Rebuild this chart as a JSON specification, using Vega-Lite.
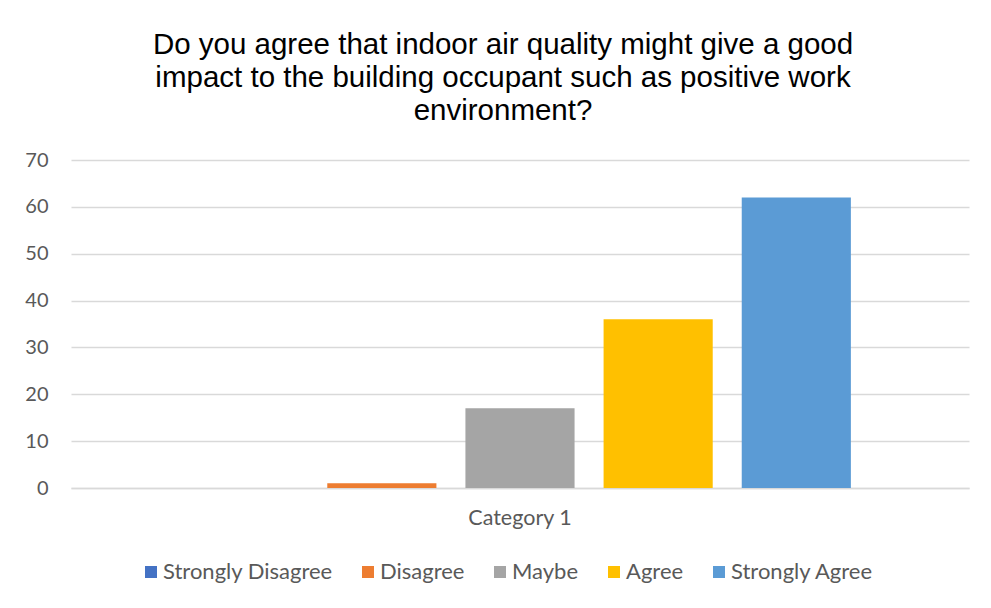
{
  "$schema": "https://vega.github.io/schema/vega-lite/v6.json",
  "autosize": {"type": "none"},
  "width": 898,
  "height": 328,
  "padding": {"left": 71, "top": 160, "right": 22, "bottom": 120},
  "background": "white",
  "title": {
    "text": ["Do you agree that indoor air quality might give a good", "impact to the building occupant such as positive work", "environment?"],
    "font": "Liberation Sans",
    "fontSize": 29.5,
    "fontWeight": "normal",
    "color": "#000000",
    "lineHeight": 33,
    "anchor": "middle",
    "dx": -17,
    "offset": 24
  },
  "data": {
    "values": [
      {"category": "Category 1", "answer": "Strongly Disagree", "count": 0},
      {"category": "Category 1", "answer": "Disagree", "count": 1},
      {"category": "Category 1", "answer": "Maybe", "count": 17},
      {"category": "Category 1", "answer": "Agree", "count": 36},
      {"category": "Category 1", "answer": "Strongly Agree", "count": 62}
    ]
  },
  "mark": {"type": "bar"},
  "encoding": {
    "x": {
      "field": "category",
      "type": "nominal",
      "scale": {"paddingInner": 0, "paddingOuter": 0.15},
      "axis": {
        "title": null,
        "labelAngle": 0,
        "ticks": false,
        "domain": true,
        "domainColor": "#D9D9D9",
        "domainWidth": 1.3,
        "labelFont": "Lato",
        "labelFontSize": 21.5,
        "labelColor": "#595959",
        "labelPadding": 19
      }
    },
    "xOffset": {
      "field": "answer",
      "type": "nominal",
      "sort": ["Strongly Disagree", "Disagree", "Maybe", "Agree", "Strongly Agree"],
      "scale": {"paddingInner": 0.21, "paddingOuter": 0.105}
    },
    "y": {
      "field": "count",
      "type": "quantitative",
      "scale": {"domain": [0, 70], "nice": false},
      "axis": {
        "title": null,
        "values": [0, 10, 20, 30, 40, 50, 60, 70],
        "ticks": false,
        "domain": false,
        "gridColor": "#D9D9D9",
        "gridWidth": 1.3,
        "labelFont": "Lato",
        "labelFontSize": 20,
        "labelColor": "#595959",
        "labelPadding": 23
      }
    },
    "color": {
      "field": "answer",
      "type": "nominal",
      "sort": ["Strongly Disagree", "Disagree", "Maybe", "Agree", "Strongly Agree"],
      "scale": {
        "domain": ["Strongly Disagree", "Disagree", "Maybe", "Agree", "Strongly Agree"],
        "range": ["#4472C4", "#ED7D31", "#A5A5A5", "#FFC000", "#5B9BD5"]
      },
      "legend": {
        "title": null,
        "orient": "none",
        "direction": "horizontal",
        "legendX": 69,
        "legendY": 401,
        "padding": 0,
        "symbolType": "square",
        "symbolSize": 144,
        "symbolStrokeWidth": 0,
        "symbolOpacity": 1,
        "labelFont": "Lato",
        "labelFontSize": 22,
        "labelLimit": 400,
        "labelColor": "#595959",
        "labelOffset": 1,
        "columnPadding": 24
      }
    }
  },
  "config": {
    "view": {"stroke": null}
  }
}
